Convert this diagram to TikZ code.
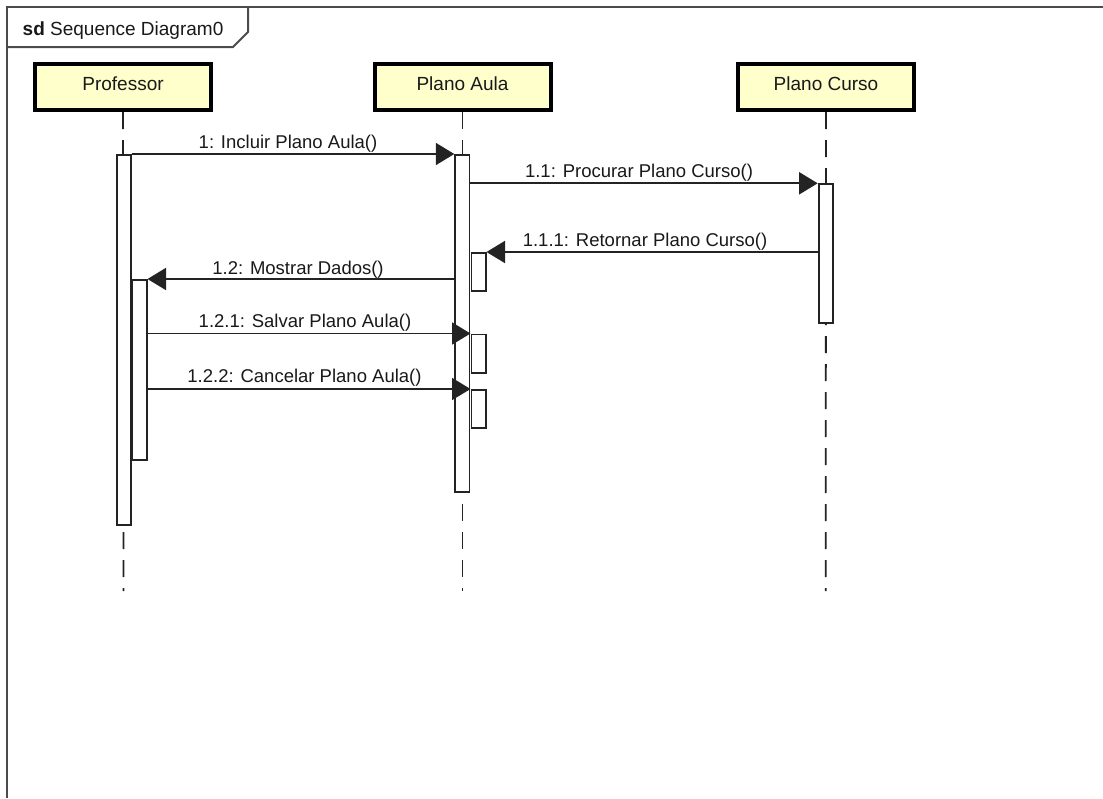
\documentclass[tikz,border=0pt]{standalone}
\usepackage{fontspec}
\setmainfont{Liberation Sans}
\usetikzlibrary{arrows.meta}
\definecolor{boxfill}{RGB}{255,255,204}
\definecolor{ln}{RGB}{35,35,35}
\definecolor{fr}{RGB}{75,75,75}
\definecolor{tx}{RGB}{25,25,25}
\begin{document}
\begin{tikzpicture}[x=1pt,y=-1pt,
  lifebox/.style={draw=black,line width=4pt,fill=boxfill,minimum width=176pt,minimum height=46pt,inner sep=0pt,
    font=\fontsize{19}{22}\selectfont,text=tx,text height=13.6pt,text depth=6pt},
  lifeline/.style={draw=ln,line width=1.8pt,dash pattern=on 17pt off 11pt},
  actbar/.style={draw=ln,line width=1.8pt,fill=white,minimum width=14.2pt,inner sep=0pt,anchor=north},
  msg/.style={draw=ln,line width=1.8pt,-{Triangle[length=18.5pt,width=22pt]}},
  lbl/.style={font=\fontsize{18.5}{22}\selectfont,text=tx,anchor=base,inner sep=0pt},
  framestyle/.style={draw=fr,line width=2pt},
]
\useasboundingbox (0,0) rectangle (1103,798);
\fill[white] (0,0) rectangle (1103,798);

% frame
\draw[framestyle] (6.5,798) -- (6.5,6.5) -- (1103,6.5);
\draw[framestyle] (6.5,47) -- (233,47) -- (248,32) -- (248,6.5);
\node[font=\fontsize{19}{22}\selectfont,text=tx,anchor=base west,inner sep=0pt] (title) at (22.5,35) {\textbf{sd} Sequence Diagram0};

% lifeline heads
\node[lifebox] (prof) at (123,87) {Professor};
\node[lifebox] (aula) at (462.5,87) {Plano Aula};
\node[lifebox] (curso) at (826,87) {Plano Curso};

\coordinate (profend) at (123.5,591);
\coordinate (aulaend) at (462.5,591);
\coordinate (cursoend) at (825.7,591);
\draw[lifeline] (prof.south) -- (profend);
\draw[lifeline] (aula.south) -- (aulaend);
\draw[lifeline] (curso.south) -- (cursoend);

% activation bars
\node[actbar,minimum height=370.2pt] (pbar) at (123.7,154) {};
\node[actbar,minimum height=180.2pt] (pbar2) at (139.5,279) {};
\node[actbar,minimum height=337.2pt] (abar) at (462.3,154) {};
\node[actbar,minimum height=38.2pt] (aself1) at (478.5,252) {};
\node[actbar,minimum height=38.7pt] (aself2) at (478.5,333.5) {};
\node[actbar,minimum height=38.2pt] (aself3) at (478.5,389) {};
\node[actbar,minimum height=138.6pt] (cbar) at (825.7,183.3) {};

% messages
\draw[msg] (pbar.north east) -- (abar.north west);
\draw[msg] (abar.east |- cbar.north west) -- (cbar.north west);
\draw[msg] (cbar.west |- aself1.north) -- (aself1.north east);
\draw[msg] (abar.west |- pbar2.north) -- (pbar2.north east);
\draw[msg] (pbar2.east |- aself2.north) -- (aself2.north west);
\draw[msg] (pbar2.east |- aself3.north) -- (aself3.north west);

% labels
\node[lbl] (l1) at (288,148.3) {1: Incluir Plano Aula()};
\node[lbl] (l11) at (639,177.7) {1.1: Procurar Plano Curso()};
\node[lbl] (l111) at (645,246.7) {1.1.1: Retornar Plano Curso()};
\node[lbl] (l12) at (298,274.3) {1.2: Mostrar Dados()};
\node[lbl] (l121) at (305,327.7) {1.2.1: Salvar Plano Aula()};
\node[lbl] (l122) at (304.5,382.7) {1.2.2: Cancelar Plano Aula()};
\end{tikzpicture}
\end{document}
